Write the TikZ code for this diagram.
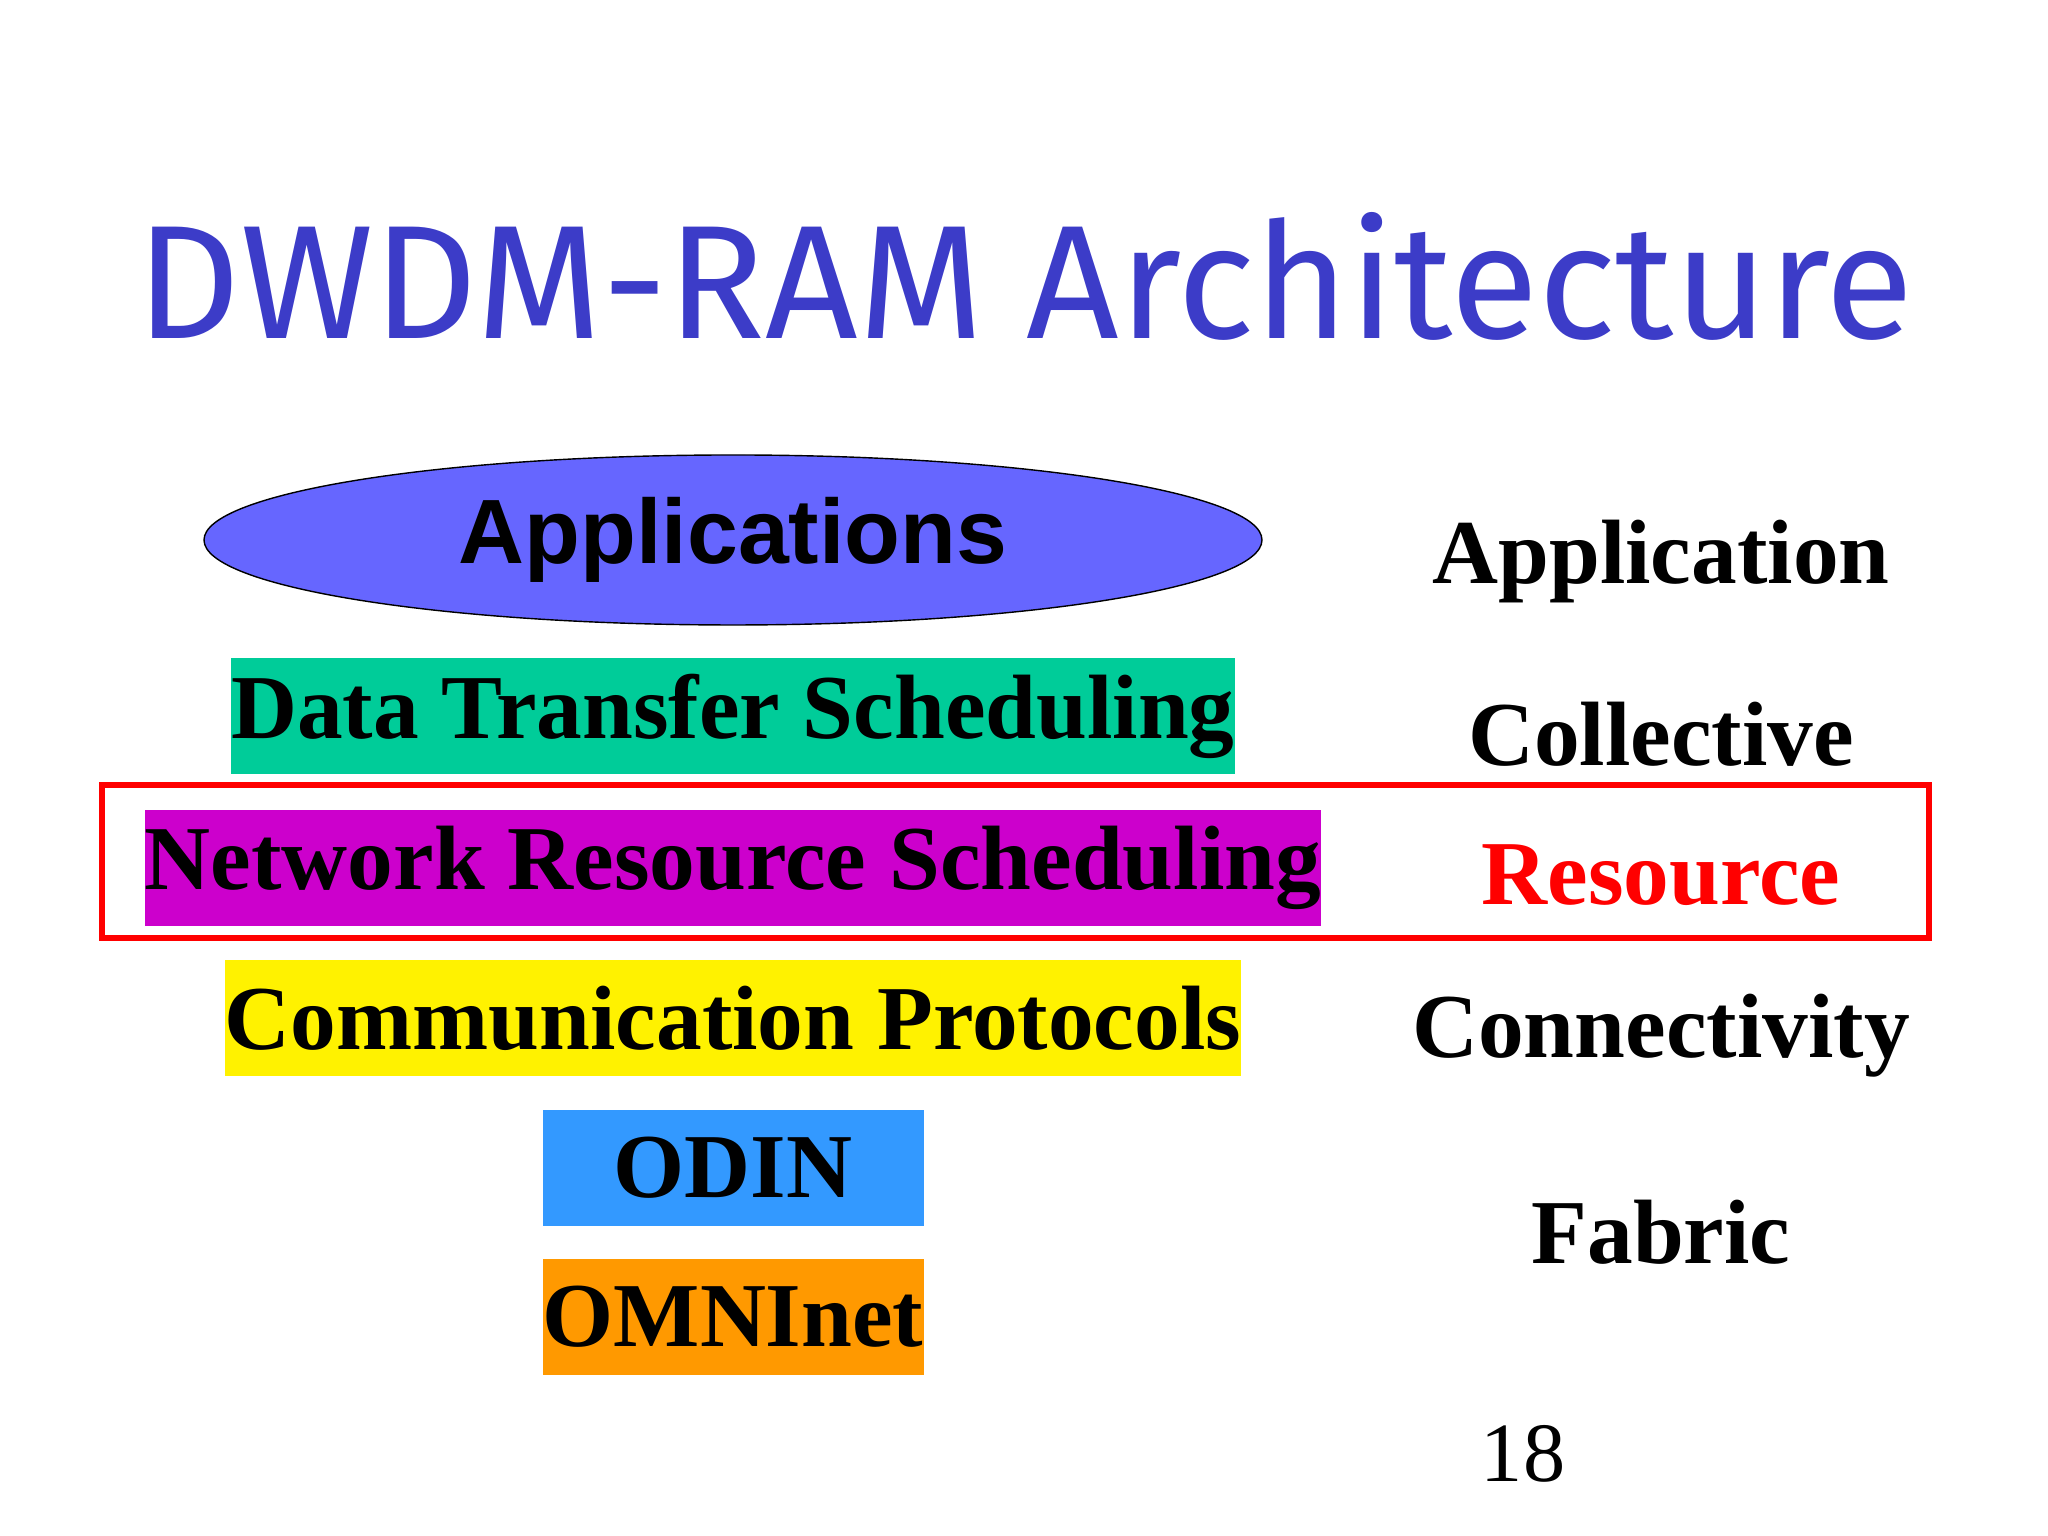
\documentclass[tikz,border=0pt]{standalone}
\usepackage{fontspec}
\setmainfont{Liberation Serif}
\newfontfamily\titlefont{Fira Sans}
\newfontfamily\sansfont{Liberation Sans}
\usetikzlibrary{shapes.geometric}
\definecolor{titleblue}{RGB}{60,60,200}
\definecolor{appblue}{RGB}{102,102,255}
\definecolor{dtsgreen}{RGB}{0,204,153}
\definecolor{nrsmagenta}{RGB}{204,0,204}
\definecolor{odinblue}{RGB}{51,153,255}
\definecolor{omniorange}{RGB}{255,153,0}
\tikzset{
  layer/.style={rectangle, inner sep=0pt, minimum height=1.16cm, font=\fontsize{26}{30}\selectfont\bfseries},
  grid/.style={font=\fontsize{26}{30}\selectfont\bfseries}
}
\begin{document}
\begin{tikzpicture}
\useasboundingbox (0,0) rectangle (20.48,15.36);
% title
\node[text=titleblue, font=\titlefont\fontsize{46}{50}\selectfont] (title) at (10.25,12.6) {DWDM-RAM Architecture};
% layers
\node[ellipse, draw, fill=appblue, minimum width=10.58cm, minimum height=1.7cm, font=\sansfont\fontsize{26}{30}\selectfont\bfseries] (apps) at (7.33,9.96) {Applications};
\node[layer, fill=dtsgreen, minimum width=9.77cm] (dts) at (7.33,8.20) {Data Transfer Scheduling};
\node[layer, fill=nrsmagenta, minimum width=10.84cm] (nrs) at (7.33,6.68) {Network Resource Scheduling};
\node[layer, fill=yellow, minimum width=9.89cm] (comm) at (7.33,5.18) {Communication Protocols};
\node[layer, fill=odinblue, minimum width=3.81cm] (odin) at (7.33,3.68) {ODIN};
\node[layer, fill=omniorange, minimum width=3.81cm] (omni) at (7.33,2.19) {OMNInet};
% grid layers
\node[grid] (application) at (16.61,9.74) {Application};
\node[grid] (collective) at (16.61,8.02) {Collective};
\node[grid, text=red] (resource) at (16.61,6.61) {Resource};
\node[grid] (connectivity) at (16.61,5.00) {Connectivity};
\node[grid] (fabric) at (16.61,3.04) {Fabric};
\draw[red, line width=1.6pt] (1.02,5.98) rectangle (19.29,7.51);
\node[font=\fontsize{24}{28}\selectfont] (page) at (15.23,0.82) {18};
\end{tikzpicture}
\end{document}
